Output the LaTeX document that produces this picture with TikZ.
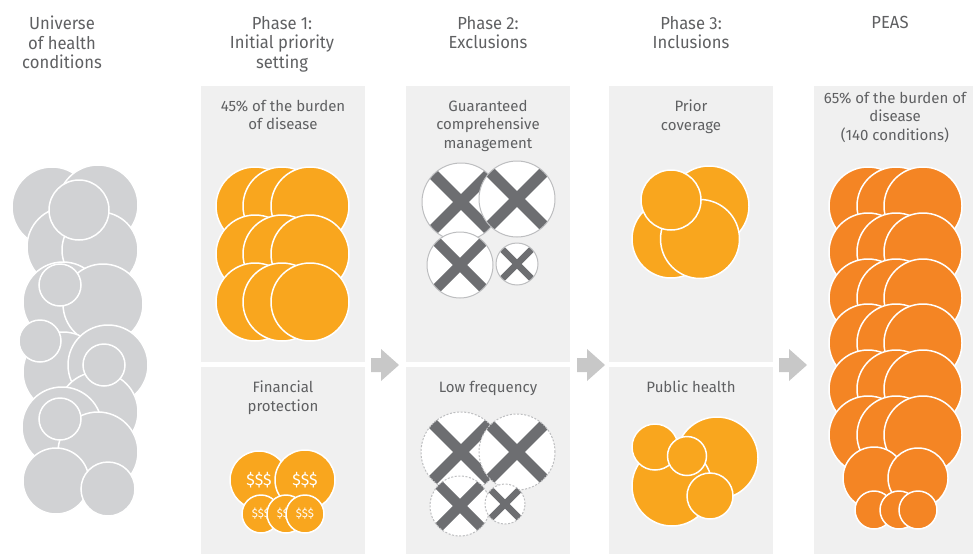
\documentclass[tikz,border=0pt]{standalone}
\usepackage{fontspec}
\setmainfont{Fira Sans}
\newfontfamily\headfont[FakeStretch=0.95]{Fira Sans}
\usetikzlibrary{positioning}

\definecolor{panelgray}{HTML}{F0F0F0}
\definecolor{txtgray}{HTML}{5F6062}
\definecolor{unigray}{HTML}{D1D2D4}
\definecolor{phaseorange}{HTML}{F9A61E}
\definecolor{peasorange}{HTML}{F48524}
\definecolor{crossgray}{HTML}{6D6E71}
\definecolor{ringgray}{HTML}{BDBEC0}
\definecolor{arrowgray}{HTML}{C8C8C8}

% crossed-out circle: x, y, radius, bar width, ring style
\newcommand\crossdisc[5]{%
  \begin{scope}[shift={(#1,#2)}]
    \begin{scope}
      \clip (0,0) circle (#3pt);
      \fill[white] (0,0) circle (#3pt);
      \draw[crossbar, line width=#4pt] (-#3,-#3) -- (#3,#3);
      \draw[crossbar, line width=#4pt] (-#3,#3) -- (#3,-#3);
    \end{scope}
    \draw[#5] (0,0) circle (#3pt);
  \end{scope}}

\tikzset{
  panel/.style={fill=panelgray},
  heading/.style={font=\headfont\fontsize{17.5}{19.5}\selectfont, text=txtgray,
                  align=center, anchor=north, inner sep=0pt},
  paneltext/.style={font=\fontsize{15}{18.5}\selectfont, text=txtgray,
                    align=center, anchor=north, inner sep=0pt},
  disc/.style={draw=white, line width=1.5pt},
  unidisc/.style={disc, fill=unigray},
  phasedisc/.style={disc, fill=phaseorange},
  peasdisc/.style={disc, fill=peasorange},
  coin/.style={phasedisc, circle, inner sep=0pt, text=white},
  crossbar/.style={crossgray},
  solidring/.style={ringgray, line width=1pt},
  dashring/.style={ringgray, line width=1pt, dash pattern=on 2pt off 1.6pt},
  blockarrow/.style={fill=arrowgray}
}

\begin{document}
\begin{tikzpicture}[x=1pt, y=-1pt]
\useasboundingbox (0,0) rectangle (973,554);

% panels
\fill[panel] (201,86) rectangle (365,362);
\fill[panel] (201,367) rectangle (365,554);
\fill[panel] (406,86) rectangle (570,362);
\fill[panel] (406,367) rectangle (570,554);
\fill[panel] (609,86) rectangle (773,362);
\fill[panel] (609,367) rectangle (773,554);
\fill[panel] (814,86) rectangle (973,554);

% column headings
\node[heading] (universe) at (62,16) {Universe\\of health\\conditions};
\node[heading] (phaseone) at (282,16) {Phase 1:\\Initial priority\\setting};
\node[heading] (phasetwo) at (488,16) {Phase 2:\\Exclusions};
\node[heading] (phasethree) at (691,16) {Phase 3:\\Inclusions};
\node[heading] (peas) at (890,16) {PEAS};

% universe of health conditions
\foreach \cx/\cy/\r in {52/207/40, 98/205/40, 67/247/40, 100/250/38, 79/210/30,
                        63/302/40, 103/304/40, 60/285/21,
                        63/372/40, 108/365/40, 40/341/21, 98/412/40, 104/365/21,
                        62/427/40, 98/452/40, 60/419/21,
                        56/481/33, 108/489/27}
  \draw[unidisc] (\cx,\cy) circle (\r pt);

% phase 1
\node[paneltext] (burden) at (283,100) {45\% of the burden\\of disease};
\foreach \cy in {206,254,302}
  \foreach \cx in {255,282,310}
    \draw[phasedisc] (\cx,\cy) circle (39pt);

\node[paneltext] (financial) at (283,381) {Financial\\protection};
\node[coin, minimum size=58pt, font=\fontsize{16}{16}\selectfont] (coinA) at (259,480) {\$\$\$};
\node[coin, minimum size=60pt, font=\fontsize{16}{16}\selectfont] (coinB) at (305,480) {\$\$\$};
\node[coin, minimum size=38pt, font=\fontsize{11.5}{11.5}\selectfont] (coinC) at (261,514) {\$\$\$};
\node[coin, minimum size=38pt, font=\fontsize{11.5}{11.5}\selectfont] (coinD) at (286,514) {\$\$\$};
\node[coin, minimum size=38pt, font=\fontsize{11.5}{11.5}\selectfont] (coinE) at (305,514) {\$\$\$};

% phase 2
\node[paneltext] (guaranteed) at (488,100) {Guaranteed\\comprehensive\\management};
\crossdisc{461}{202}{39}{11}{solidring}
\crossdisc{517}{199}{38}{11}{solidring}
\crossdisc{460}{265}{33}{10}{solidring}
\crossdisc{517}{264}{21}{6.5}{solidring}

\node[paneltext] (lowfreq) at (488,381) {Low frequency};
\crossdisc{461}{452}{40}{11}{dashring}
\crossdisc{517}{452}{38}{11}{dashring}
\crossdisc{460}{506}{30}{10}{dashring}
\crossdisc{505}{504}{20}{6.5}{dashring}

% phase 3
\node[paneltext] (prior) at (691,100) {Prior\\coverage};
\foreach \cx/\cy/\r in {709/206/40, 671/239/39, 700/239/39.5, 671/200/30}
  \draw[phasedisc] (\cx,\cy) circle (\r pt);

\node[paneltext] (public) at (691,381) {Public health};
\foreach \cx/\cy/\r in {717/458/41, 672/486/40, 655/447/23, 687/456/19.5, 710/496/23}
  \draw[phasedisc] (\cx,\cy) circle (\r pt);

% PEAS
\node[paneltext] (peasshare) at (895,92) {65\% of the burden of\\disease\\(140 conditions)};
\foreach \cy in {206,252,298,343,389,435}
  \foreach \cx in {868,896,923}
    \draw[peasdisc] (\cx,\cy) circle (39pt);
\foreach \cx/\cy/\r in {874/478/31, 918/478/30, 874/510/19, 899/510/19, 918/510/19}
  \draw[peasdisc] (\cx,\cy) circle (\r pt);

% arrows between phases
\foreach \ax in {371,577,779}
  \fill[blockarrow] (\ax,358) -- ++(10,0) -- ++(0,-9) -- ++(18,16)
                    -- ++(-18,16) -- ++(0,-9) -- ++(-10,0) -- cycle;

\end{tikzpicture}
\end{document}
